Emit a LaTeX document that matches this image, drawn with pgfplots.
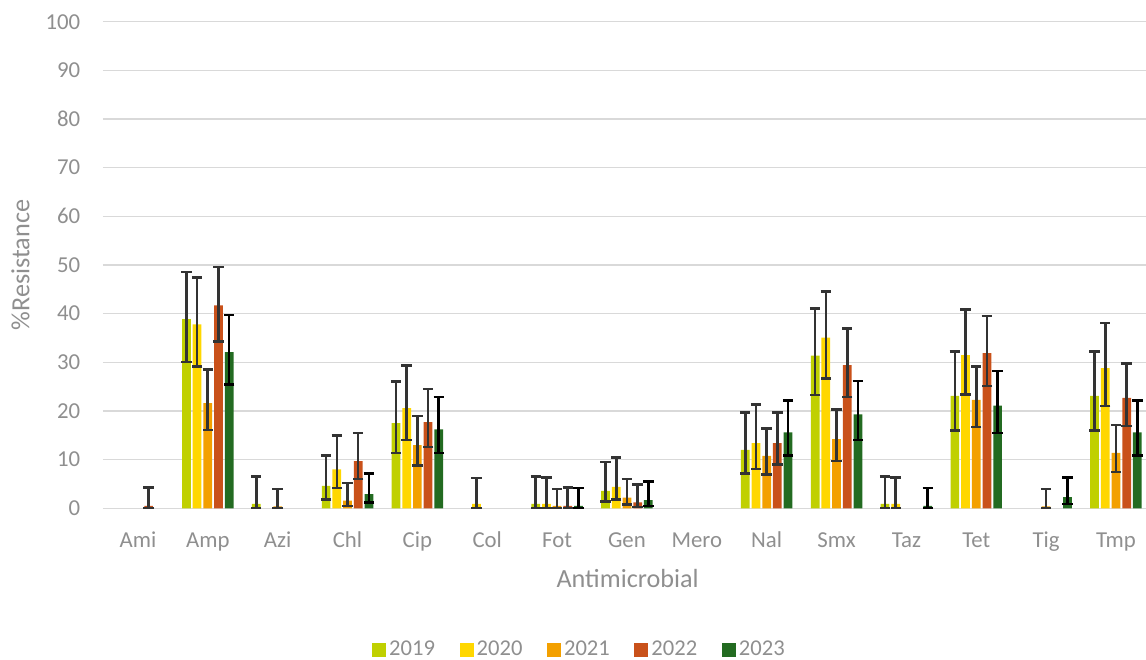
\documentclass[border=0pt]{standalone}
\usepackage{fontspec}
\setmainfont{Carlito}
\usepackage{pgfplots}
\usepackage{pgfplotstable}
\pgfplotsset{compat=1.18}
\definecolor{c19}{HTML}{C0D000}
\definecolor{c20}{HTML}{FFD700}
\definecolor{c21}{HTML}{F3A000}
\definecolor{c22}{HTML}{C9511A}
\definecolor{c23}{HTML}{236B21}
\definecolor{txt}{HTML}{8F8F8F}
\definecolor{grd}{HTML}{D9D9D9}
\definecolor{eb}{HTML}{333333}

\pgfplotstableread{
x y t b
1 38.9 48.6 30.1
2 0.9 6.5 0
3 4.6 10.8 1.8
4 17.5 26.1 11.4
6 0.9 6.5 0
7 3.6 9.5 1.4
9 12.0 19.7 7.1
10 31.4 41.0 23.3
11 0.9 6.5 0
12 23.1 32.2 16.0
14 23.1 32.2 16.0
}\dA
\pgfplotstableread{
x y t b
1 37.8 47.4 29.2
3 8.0 14.9 4.2
4 20.6 29.4 14.0
5 0.9 6.2 0
6 0.9 6.3 0
7 4.4 10.5 1.8
9 13.4 21.3 8.1
10 35.1 44.6 26.7
11 0.9 6.3 0
12 31.5 40.9 23.4
14 28.8 38.1 21.0
}\dB
\pgfplotstableread{
x y t b
1 21.6 28.5 16.1
2 0.4 4.0 0
3 1.6 5.2 0.5
4 13.0 19.0 8.8
6 0.5 4.0 0
7 2.2 6.0 0.8
9 10.8 16.4 6.9
10 14.2 20.3 9.7
12 22.3 29.1 16.7
13 0.4 4.0 0
14 11.4 17.1 7.5
}\dC
\pgfplotstableread{
x y t b
0 0.5 4.3 0
1 41.7 49.6 34.3
3 9.7 15.5 6.0
4 17.7 24.5 12.6
6 0.5 4.3 0
7 1.2 4.9 0.3
9 13.4 19.7 9.0
10 29.4 36.9 22.9
12 31.9 39.5 25.1
14 22.7 29.8 16.9
}\dD
\pgfplotstableread{
x y t b
1 32.1 39.7 25.4
3 2.9 7.1 1.2
4 16.2 22.9 11.4
6 0.5 4.2 0
7 1.7 5.5 0.5
9 15.6 22.2 10.9
10 19.3 26.2 14.0
11 0.5 4.2 0
12 21.1 28.2 15.5
13 2.3 6.3 0.9
14 15.6 22.1 10.9
}\dE

\pgfplotsset{
  mybar/.style={ybar, bar width=0.125, bar shift=0pt, draw=none, fill=#1},
  myerr/.style={forget plot, draw=none, mark=none,
    error bars/.cd, y dir=both, y explicit, error mark=-,
    error bar style={line width=1.3pt, draw=#1, solid},
    error mark options={line width=1.3pt, mark size=2.6pt, draw=#1, rotate=90}},
}

\begin{document}
\begin{tikzpicture}
\useasboundingbox (-51.5pt,-75.35pt) rectangle (521.5pt,254.15pt);
\begin{axis}[
  at={(0,0)}, anchor=south west,
  scale only axis, width=521.5pt, height=243.3pt,
  xmin=-0.5, xmax=14.43, ymin=0, ymax=100,
  ytick={0,10,...,100},
  xtick={0,...,14},
  xticklabels={Ami,Amp,Azi,Chl,Cip,Col,Fot,Gen,Mero,Nal,Smx,Taz,Tet,Tig,Tmp},
  ymajorgrids, grid style={draw=grd, line width=0.75pt},
  axis line style={draw=none}, tick style={draw=none},
  /pgf/number format/assume math mode=true,
  ticklabel style={font=\fontsize{11.4}{13}\selectfont, text=txt},
  yticklabel style={anchor=east, inner sep=0pt, xshift=-11.2pt},
  xticklabel style={anchor=base, inner sep=0pt, yshift=-19.5pt},
  xlabel={Antimicrobial},
  ylabel={\%Resistance},
  label style={font=\fontsize{13.1}{15}\selectfont, text=txt},
  xlabel style={at={(axis description cs:0.503,-0.1624)}, anchor=base, inner sep=0pt},
  ylabel style={at={(axis description cs:-0.0707,0.5)}, anchor=base, inner sep=0pt},
  legend columns=5,
  legend style={at={(axis description cs:0.4573,-0.2912)}, anchor=center,
    draw=none, fill=none, font=\fontsize{11.3}{13}\selectfont, text=txt,
    /tikz/every even column/.append style={column sep=10.8pt},
    nodes={inner sep=1.5pt}},
  legend image code/.code={\fill (0pt,-3.5pt) rectangle (7pt,3.5pt);},
]
\addplot[mybar=c19] table[x expr=\thisrow{x}-0.306, y=y]{\dA};
\addplot[mybar=c20] table[x expr=\thisrow{x}-0.153, y=y]{\dB};
\addplot[mybar=c21] table[x expr=\thisrow{x}, y=y]{\dC};
\addplot[mybar=c22] table[x expr=\thisrow{x}+0.153, y=y]{\dD};
\addplot[mybar=c23] table[x expr=\thisrow{x}+0.306, y=y]{\dE};
\legend{2019,2020,2021,2022,2023}
\addplot[myerr=eb] table[x expr=\thisrow{x}-0.306, y=y, y error plus expr=\thisrow{t}-\thisrow{y}, y error minus expr=\thisrow{y}-\thisrow{b}]{\dA};
\addplot[myerr=eb] table[x expr=\thisrow{x}-0.153, y=y, y error plus expr=\thisrow{t}-\thisrow{y}, y error minus expr=\thisrow{y}-\thisrow{b}]{\dB};
\addplot[myerr=eb] table[x expr=\thisrow{x}, y=y, y error plus expr=\thisrow{t}-\thisrow{y}, y error minus expr=\thisrow{y}-\thisrow{b}]{\dC};
\addplot[myerr=eb] table[x expr=\thisrow{x}+0.153, y=y, y error plus expr=\thisrow{t}-\thisrow{y}, y error minus expr=\thisrow{y}-\thisrow{b}]{\dD};
\addplot[myerr=black] table[x expr=\thisrow{x}+0.306, y=y, y error plus expr=\thisrow{t}-\thisrow{y}, y error minus expr=\thisrow{y}-\thisrow{b}]{\dE};
\end{axis}
\end{tikzpicture}
\end{document}
